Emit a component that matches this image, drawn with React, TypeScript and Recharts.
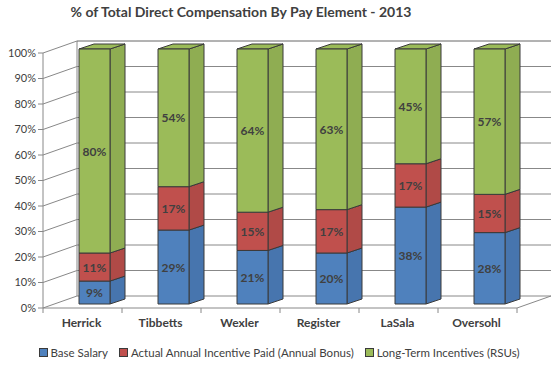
import { BarChart, Bar, XAxis, YAxis, CartesianGrid, Legend, LabelList } from 'recharts';

const categories = ['Herrick', 'Tibbetts', 'Wexler', 'Register', 'LaSala', 'Oversohl'];
const baseSalary = [9, 29, 21, 20, 38, 28];
const annualBonus = [11, 17, 15, 17, 17, 15];
const longTermIncentives = [80, 54, 64, 63, 45, 57];
const yTicks = [0, 10, 20, 30, 40, 50, 60, 70, 80, 90, 100];

const series = [
  { key: 'base', name: 'Base Salary', color: '#4f81bd', side: '#4775ae' },
  { key: 'bonus', name: 'Actual Annual Incentive Paid (Annual Bonus)', color: '#c0504d', side: '#b04a47' },
  { key: 'lti', name: 'Long-Term Incentives (RSUs)', color: '#9bbb59', side: '#8fad52' },
];

const data = categories.map((name, i) => ({
  name,
  base: baseSalary[i],
  bonus: annualBonus[i],
  lti: longTermIncentives[i],
}));

const FONT = 'Lato, "Open Sans", sans-serif';
const TEXT = '#404040';
const GRID = '#888888';
const EDGE = '#3a3a3a';
// 3D wall depth
const WX = 34;
const WY = 12;
// bar offset into the wall and bar depth
const BX = 12;
const BY = -4;
const SX = 15;
const SY = 5;

// back wall line + diagonal to the front axis for every gridline
const WallLine = (props: any) => {
  const { x1, y1, x2 } = props;
  const top = props.y;
  const bottom = props.y + props.height;
  const isFloor = typeof bottom === 'number' && Math.abs(y1 - bottom) < 1;
  const isTop = typeof top === 'number' && Math.abs(y1 - top) < 1;
  return (
    <g>
      <line x1={x1} y1={y1} x2={x1 + WX} y2={y1 - WY} stroke={GRID} />
      <line x1={x1 + WX} y1={y1 - WY} x2={x2 + WX} y2={y1 - WY} stroke={isTop ? '#666' : GRID} />
      {isFloor && <line x1={x2} y1={y1} x2={x2 + WX} y2={y1 - WY} stroke={GRID} />}
      {isFloor && <line x1={x1 + WX} y1={y1 - WY} x2={x1 + WX} y2={top - WY} stroke={GRID} />}
    </g>
  );
};

const makeShape = (color: string, side: string, withTop: boolean) => (props: any) => {
  const { x, y, width, height } = props;
  if (!height) return <g />;
  const fx = x + BX;
  const fy = y + BY;
  return (
    <g stroke={EDGE} strokeWidth={1} strokeLinejoin="round">
      <polygon
        points={`${fx + width},${fy} ${fx + width + SX},${fy - SY} ${fx + width + SX},${fy + height - SY} ${fx + width},${fy + height}`}
        fill={side}
      />
      {withTop && (
        <polygon
          points={`${fx},${fy} ${fx + SX},${fy - SY} ${fx + width + SX},${fy - SY} ${fx + width},${fy}`}
          fill={color}
        />
      )}
      <rect x={fx} y={fy} width={width} height={height} fill={color} />
    </g>
  );
};

const SegmentLabel = (props: any) => {
  const { x, y, width, height, value } = props;
  return (
    <text
      x={x + BX + width / 2}
      y={y + BY + height / 2}
      textAnchor="middle"
      dominantBaseline="central"
      fontFamily={FONT}
      fontSize={12}
      fontWeight="bold"
      fill={TEXT}
    >
      {`${value}%`}
    </text>
  );
};

const CategoryTick = (props: any) => {
  const { x, y, payload, index } = props;
  const count = props.visibleTicksCount || categories.length;
  const half = props.width ? props.width / count / 2 : 39.5;
  return (
    <g>
      <line x1={x - half} y1={y - 5} x2={x - half} y2={y} stroke={GRID} />
      {index === count - 1 && <line x1={x + half} y1={y - 5} x2={x + half} y2={y} stroke={GRID} />}
      <text x={x - 1} y={y + 14} textAnchor="middle" fontFamily={FONT} fontSize={12} fontWeight="bold" fill={TEXT}>
        {payload.value}
      </text>
    </g>
  );
};

const LegendContent = () => (
  <div
    style={{
      height: 20,
      display: 'flex',
      justifyContent: 'center',
      alignItems: 'center',
      fontFamily: FONT,
      fontSize: 11.5,
      color: TEXT,
      paddingLeft: 2,
    }}
  >
    {series.map((s, i) => (
      <span
        key={s.key}
        style={{ display: 'flex', alignItems: 'center', marginRight: i === series.length - 1 ? 0 : 11 }}
      >
        <span
          style={{
            width: 7,
            height: 7,
            background: s.color,
            border: `1px solid ${EDGE}`,
            marginRight: 3,
          }}
        />
        {s.name}
      </span>
    ))}
  </div>
);

export default function App() {
  return (
    <div style={{ position: 'absolute', left: 0, top: 0, width: 556, height: 366, background: '#fff' }}>
      <div
        style={{
          position: 'absolute',
          left: 0,
          top: 3,
          width: 482,
          textAlign: 'center',
          fontFamily: FONT,
          fontSize: 14,
          fontWeight: 'bold',
          color: TEXT,
        }}
      >
        % of Total Direct Compensation By Pay Element - 2013
      </div>
      <BarChart
        width={556}
        height={366}
        data={data}
        margin={{ top: 53, right: 39, left: 3, bottom: 4 }}
        barSize={31}
      >
        <CartesianGrid vertical={false} horizontal={WallLine} stroke={GRID} />
        <XAxis
          dataKey="name"
          height={34}
          tickSize={5}
          tickMargin={0}
          tickLine={false}
          axisLine={{ stroke: GRID }}
          tick={CategoryTick}
          interval={0}
        />
        <YAxis
          width={40}
          domain={[0, 100]}
          ticks={yTicks}
          interval={0}
          tickSize={5}
          tickMargin={2}
          tickFormatter={(v) => `${v}%`}
          tick={{ fill: TEXT, fontSize: 11, fontFamily: FONT }}
          tickLine={{ stroke: GRID }}
          axisLine={{ stroke: GRID }}
        />
        <Legend verticalAlign="bottom" content={LegendContent} wrapperStyle={{ left: 0, width: 556 }} />
        {series.map((s, i) => (
          <Bar
            key={s.key}
            dataKey={s.key}
            name={s.name}
            stackId="pay"
            fill={s.color}
            isAnimationActive={false}
            shape={makeShape(s.color, s.side, i === series.length - 1)}
          >
            <LabelList dataKey={s.key} content={SegmentLabel} />
          </Bar>
        ))}
      </BarChart>
    </div>
  );
}
